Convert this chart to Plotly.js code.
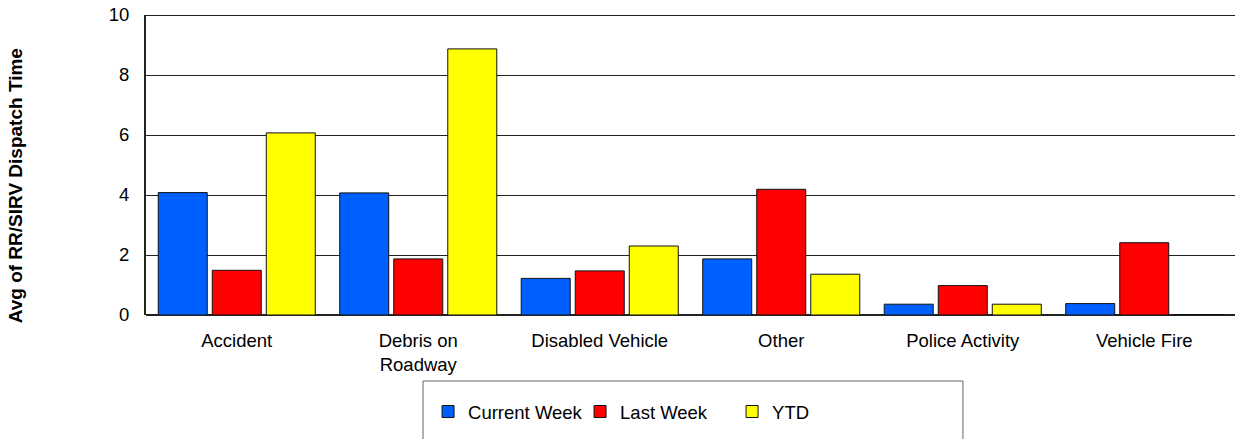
<!DOCTYPE html>
<html>
<head>
<meta charset="utf-8">
<script src="https://cdn.plot.ly/plotly-3.0.1.min.js"></script>
<style>html,body{margin:0;padding:0;background:#fff;}#chart{width:1235px;height:439px;}</style>
</head>
<body>
<div id="chart"></div>
<script>
var categories = ["Accident", "Debris on<br>Roadway", "Disabled Vehicle", "Other", "Police Activity", "Vehicle Fire"];
var currentWeek = [4.08, 4.07, 1.22, 1.87, 0.36, 0.38];
var lastWeek = [1.49, 1.87, 1.47, 4.19, 0.98, 2.41];
var ytd = [6.07, 8.87, 2.30, 1.36, 0.36, 0];
var yTickVals = [0, 2, 4, 6, 8, 10];
var yTitle = "Avg of RR/SIRV Dispatch Time";

var font = "Arial, 'Liberation Sans', sans-serif";
function bar(name, y, color) {
  return {
    type: "bar", name: name, x: categories, y: y,
    marker: {color: color, line: {color: "#111", width: 1}},
    hoverinfo: "x+y"
  };
}
var data = [
  bar("Current Week", currentWeek, "#0060FF"),
  bar("Last Week", lastWeek, "#FF0000"),
  bar("YTD", ytd, "#FFFF00")
];
var layout = {
  width: 1235, height: 439,
  margin: {l: 146, r: 0, t: 15, b: 124},
  paper_bgcolor: "#fff", plot_bgcolor: "#fff",
  font: {family: font, size: 18.5, color: "#000"},
  barmode: "group", bargap: 0.107, bargroupgap: 0.093,
  showlegend: true,
  legend: {
    orientation: "h", x: 0.259, xanchor: "left", y: -0.26, yanchor: "top",
    entrywidth: 107, font: {family: font, size: 18.5, color: "#000"},
    bgcolor: "rgba(0,0,0,0)", borderwidth: 0, traceorder: "normal"
  },
  xaxis: {
    type: "category", tickvals: categories, ticktext: categories,
    showgrid: false, showline: false, ticks: "", ticklabelstandoff: 12,
    tickfont: {family: font, size: 18.5}
  },
  yaxis: {
    range: [0, 10], tickvals: yTickVals, ticks: "",
    showgrid: true, gridcolor: "#222", gridwidth: 1,
    zeroline: true, zerolinecolor: "#222", zerolinewidth: 2,
    showline: true, linecolor: "#222", linewidth: 2,
    ticklabelstandoff: 11, tickfont: {family: font, size: 18.5}
  },
  shapes: [
    {type: "line", xref: "paper", yref: "y", x0: 0, x1: 1, y0: 10, y1: 10, line: {color: "#222", width: 2}},
    {type: "rect", xref: "paper", yref: "paper", x0: 0.2544, x1: 0.7502, y0: -0.22, y1: -0.5,
     line: {color: "#666", width: 1}, fillcolor: "rgba(0,0,0,0)", layer: "below"}
  ],
  annotations: [
    {text: "<b>" + yTitle + "</b>", xref: "paper", yref: "paper", x: -0.12, y: 0.43,
     xanchor: "center", yanchor: "middle", textangle: -90, showarrow: false,
     font: {family: font, size: 19, color: "#000"}}
  ]
};
Plotly.newPlot("chart", data, layout, {displayModeBar: false, staticPlot: true});
</script>
</body>
</html>
